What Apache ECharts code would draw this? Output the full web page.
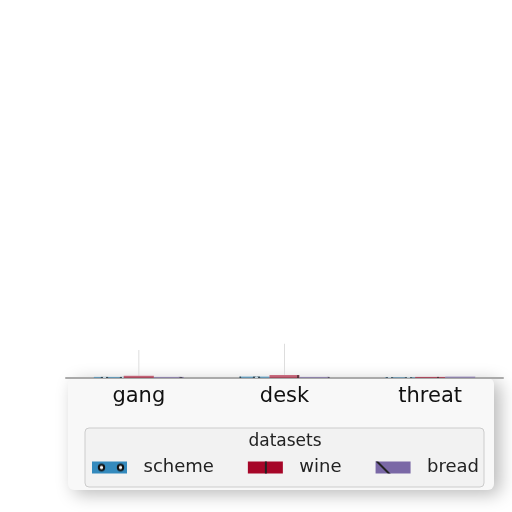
<!DOCTYPE html>
<html><head><meta charset="utf-8">
<script src="https://cdn.jsdelivr.net/npm/echarts@6/dist/echarts.min.js"></script>
<style>html,body{margin:0;padding:0;background:#fff}#c{width:512px;height:512px}</style>
</head><body><div id="c"></div>
<script>
const categories = ['gang', 'desk', 'threat'];
const seriesNames = ['scheme', 'wine', 'bread'];
const schemeValues = [0.3, 0.4, 0.2];
const wineValues = [0.6, 0.8, 0.3];
const breadValues = [0.3, 0.3, 0.4];
const wineErrors = [7, 8.5, 0];
const colors = ['#348abd', '#a60628', '#7a68a6'];

const chart = echarts.init(document.getElementById('c'));
const font = 'DejaVu Sans';
const decals = [
  {symbol: 'emptyCircle', symbolSize: 0.45, color: '#111', dashArrayX: [[19, 0]], dashArrayY: [12, 0]},
  {symbol: 'rect', symbolSize: 1, color: '#222', dashArrayX: [[0, 17, 2, 16]], dashArrayY: [100, 0]},
  {symbol: 'rect', symbolSize: 1, color: '#222', dashArrayX: [[2, 33]], dashArrayY: [100, 0], rotation: -Math.PI / 4}
];
const vals = [schemeValues, wineValues, breadValues];
const series = seriesNames.map((n, i) => ({
  name: n, type: 'bar', data: vals[i], barWidth: 30, barGap: '0%',
  itemStyle: {color: colors[i], decal: decals[i], opacity: 0.6}
}));
series.push({
  type: 'custom', name: 'err', silent: true, z: 1,
  data: categories.map((c, i) => [i, wineValues[i], wineErrors[i]]),
  renderItem: (params, api) => {
    const base = api.coord([api.value(0), api.value(1)]);
    const top = api.coord([api.value(0), api.value(1) + api.value(2)]);
    return {type: 'line', shape: {x1: base[0], y1: base[1], x2: top[0], y2: top[1]},
      style: {stroke: '#dddddd', lineWidth: 1}};
  }
});
chart.setOption({
  animation: false,
  backgroundColor: '#ffffff',
  grid: {left: 66, right: 9, top: 10, bottom: 134},
  xAxis: {type: 'category', data: categories,
    axisLine: {lineStyle: {color: '#aaaaaa', width: 2}}, axisTick: {show: false},
    axisLabel: {color: '#111', fontFamily: font, fontSize: 21, margin: 8}},
  yAxis: {type: 'value', min: 0, max: 100, show: false},
  legend: {
    data: seriesNames, left: 92, top: 458.5, padding: 0, itemWidth: 35, itemHeight: 12, itemGap: 34,
    icon: 'rect', itemStyle: {opacity: 1},
    textStyle: {fontFamily: font, fontSize: 18, color: '#222', padding: [0, 0, 0, 11.5]}
  },
  graphic: [
    {type: 'rect', z: -10, shape: {x: 68, y: 378, width: 426, height: 112, r: 6},
      style: {fill: '#f8f8f8', shadowBlur: 18, shadowColor: 'rgba(0,0,0,0.28)', shadowOffsetX: 6, shadowOffsetY: 4}},
    {type: 'rect', z: -5, shape: {x: 85, y: 428, width: 399, height: 59, r: 4},
      style: {fill: '#f2f2f2', stroke: '#cccccc', lineWidth: 1}},
    {type: 'text', z: 5, x: 285, y: 442,
      style: {text: 'datasets', font: '17px "DejaVu Sans"', fill: '#222', align: 'center', verticalAlign: 'middle'}}
  ],
  series
});
</script></body></html>
